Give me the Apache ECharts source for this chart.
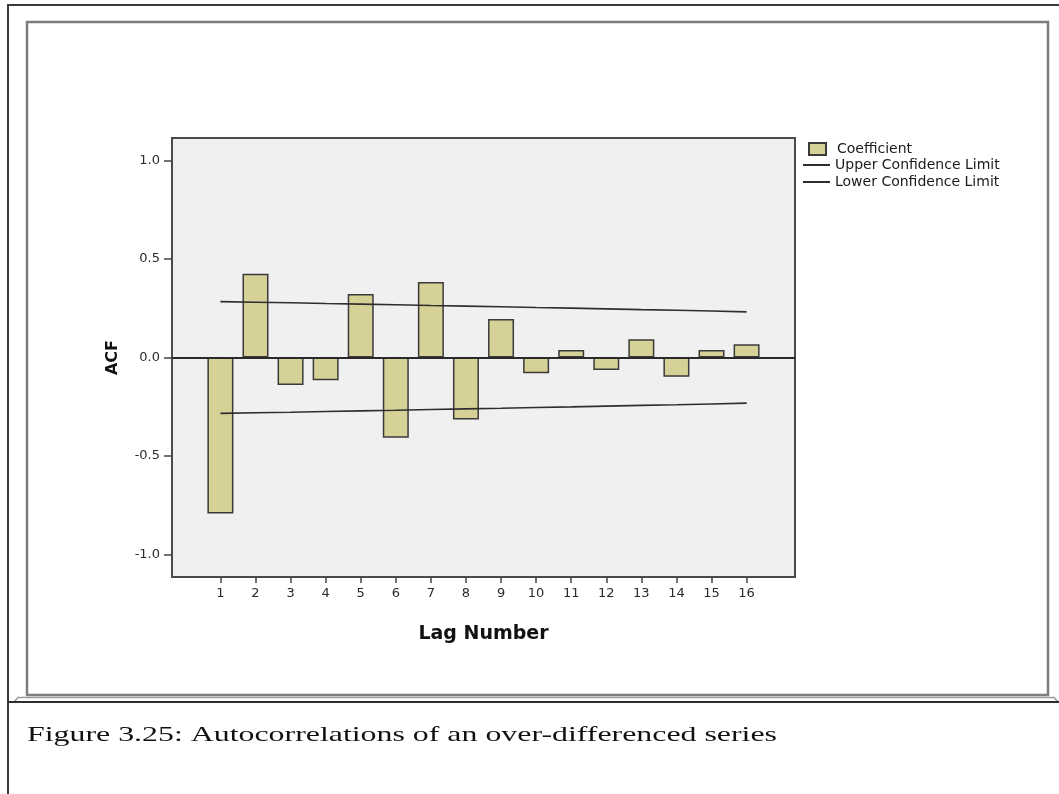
<!DOCTYPE html>
<html>
<head>
<meta charset="utf-8">
<script src="https://cdn.jsdelivr.net/npm/echarts@6/dist/echarts.min.js"></script>
<style>
  html, body { margin: 0; padding: 0; background: #ffffff; }
  #chart { width: 1059px; height: 794px; }
</style>
</head>
<body>
<div id="chart"></div>
<script>
// ---- data ----
var lags = [1, 2, 3, 4, 5, 6, 7, 8, 9, 10, 11, 12, 13, 14, 15, 16];
var coefficient = [-0.793, 0.425, -0.140, -0.115, 0.323, -0.408, 0.383, -0.315, 0.196, -0.080, 0.038, -0.064, 0.093, -0.098, 0.038, 0.067];
var upperLimit = [0.284, 0.281, 0.278, 0.274, 0.271, 0.268, 0.264, 0.261, 0.258, 0.254, 0.251, 0.247, 0.243, 0.240, 0.236, 0.232];
var lowerLimit = [-0.284, -0.281, -0.278, -0.274, -0.271, -0.268, -0.264, -0.261, -0.258, -0.254, -0.251, -0.247, -0.243, -0.240, -0.236, -0.232];
var yTicks = [-1.0, -0.5, 0.0, 0.5, 1.0];
var seriesNames = ['Coefficient', 'Upper Confidence Limit', 'Lower Confidence Limit'];
var axisNames = { x: 'Lag Number', y: 'ACF' };
var caption = 'Figure 3.25: Autocorrelations of an over-differenced series';

function pairs(xs, ys) { return xs.map(function (x, i) { return [x, ys[i]]; }); }

var chart = echarts.init(document.getElementById('chart'), null, { renderer: 'canvas' });

// measure caption to stretch it like the reference's wide caption
var ctx = document.createElement('canvas').getContext('2d');
var capFont = '22px "Liberation Serif"';
ctx.font = capFont;
var capW = ctx.measureText(caption).width;
var capScale = 750 / capW;

var sans = '"DejaVu Sans", sans-serif';

var option = {
  backgroundColor: '#ffffff',
  animation: false,
  grid: {
    left: 172, top: 138, width: 623, height: 439,
    show: true, backgroundColor: '#f0f0f0',
    borderColor: '#4a4a4a', borderWidth: 2
  },
  legend: [
    {
      data: [seriesNames[0]],
      left: 803, top: 137,
      orient: 'vertical',
      itemWidth: 17, itemHeight: 12,
      icon: 'rect',
      textStyle: { fontFamily: sans, fontSize: 14, color: '#1a1a1a', padding: [0, 0, 0, 6] }
    },
    {
      data: [seriesNames[1], seriesNames[2]],
      left: 798, top: 153,
      orient: 'vertical',
      itemWidth: 27, itemHeight: 2, itemGap: 3,
      icon: 'rect',
      textStyle: { fontFamily: sans, fontSize: 14, color: '#1a1a1a' }
    }
  ],
  xAxis: {
    type: 'value',
    min: -0.38, max: 17.38,
    name: axisNames.x,
    nameLocation: 'middle',
    nameGap: 48,
    nameTextStyle: { fontFamily: '"DejaVu Sans"', fontWeight: 'bold', fontSize: 19, color: '#111' },
    axisLine: { show: true, onZero: false, lineStyle: { color: '#4a4a4a', width: 2 } },
    axisTick: { show: true, customValues: lags, length: 6, lineStyle: { color: '#444', width: 1.5 } },
    axisLabel: { customValues: lags, margin: 10, fontFamily: sans, fontSize: 13, color: '#2a2a2a' },
    splitLine: { show: false }
  },
  yAxis: {
    type: 'value',
    min: -1.115, max: 1.115,
    name: axisNames.y,
    nameLocation: 'middle',
    nameRotate: 90,
    nameGap: 51,
    nameTextStyle: { fontFamily: '"DejaVu Sans"', fontWeight: 'bold', fontSize: 16, color: '#111' },
    axisLine: { show: true, onZero: false, lineStyle: { color: '#4a4a4a', width: 2 } },
    axisTick: { show: true, customValues: yTicks, length: 8, lineStyle: { color: '#444', width: 1.5 } },
    axisLabel: {
      customValues: yTicks, margin: 12, fontFamily: sans, fontSize: 13, color: '#2a2a2a',
      formatter: function (v) { return Number(v).toFixed(1); }
    },
    splitLine: { show: false }
  },
  series: [
    {
      name: seriesNames[0],
      type: 'bar',
      data: pairs(lags, coefficient),
      barWidth: 26,
      itemStyle: { color: '#d5d197', borderColor: '#3a3a3a', borderWidth: 1.5 },
      markLine: {
        silent: true, symbol: 'none',
        label: { show: false },
        lineStyle: { color: '#2a2a2a', width: 2, type: 'solid' },
        data: [{ yAxis: 0 }]
      },
      z: 2
    },
    {
      name: seriesNames[1],
      type: 'line',
      data: pairs(lags, upperLimit),
      symbol: 'none',
      lineStyle: { color: '#2e2e2e', width: 1.6 },
      itemStyle: { color: '#2e2e2e' },
      z: 3
    },
    {
      name: seriesNames[2],
      type: 'line',
      data: pairs(lags, lowerLimit),
      symbol: 'none',
      lineStyle: { color: '#2e2e2e', width: 1.6 },
      itemStyle: { color: '#2e2e2e' },
      z: 3
    }
  ],
  graphic: [
    // outer frame
    { type: 'polyline', shape: { points: [[8, 794], [8, 5], [1059, 5]] }, style: { stroke: '#3a3a3a', lineWidth: 2, fill: null }, silent: true },
    // inner frame
    { type: 'rect', shape: { x: 27, y: 22, width: 1021, height: 673 }, style: { stroke: '#7d7d7d', lineWidth: 2.5, fill: null }, silent: true },
    // bevel below inner frame
    { type: 'polyline', shape: { points: [[14, 702], [18, 697.5], [1054, 697.5], [1058, 702]] }, style: { stroke: '#9a9a9a', lineWidth: 1.5, fill: null }, silent: true },
    { type: 'line', shape: { x1: 8, y1: 702, x2: 1059, y2: 702 }, style: { stroke: '#2e2e2e', lineWidth: 2 }, silent: true },
    // caption
    {
      type: 'text', x: 27, y: 735, scaleX: capScale, scaleY: 1,
      style: { text: caption, font: capFont, fill: '#111', verticalAlign: 'middle', align: 'left' },
      silent: true
    }
  ]
};
chart.setOption(option);
</script>
</body>
</html>
